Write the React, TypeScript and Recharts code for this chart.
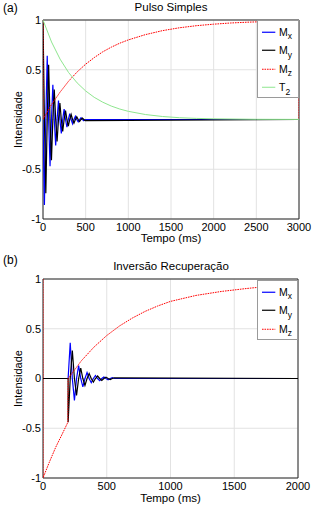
import React from 'react';
import { LineChart, Line, XAxis, YAxis, CartesianGrid, Legend, ReferenceArea } from 'recharts';

const FONT = '"Liberation Sans", Arial, Helvetica, sans-serif';

// (a) Pulso simples, tempo em ms
const pulseTime = [0, 16.5, 33, 49.5, 66, 82.5, 99, 115.5, 132, 148.5, 165, 181.5, 198, 214.5, 231, 247.5, 264, 280.5, 297, 313.5, 330, 346.5, 363, 379.5, 396, 412.5, 429, 445.5, 462, 478.5, 495, 3000];
const pulseMx = [0, -0.86, 0, 0.64, 0, -0.47, 0, 0.35, 0, -0.26, 0, 0.19, 0, -0.14, 0, 0.105, 0, -0.078, 0, 0.058, 0, -0.043, 0, 0.032, 0, -0.024, 0, 0.017, 0, -0.013, 0, 0];
const pulseMy = [1, 0, -0.74, 0, 0.55, 0, -0.41, 0, 0.3, 0, -0.22, 0, 0.165, 0, -0.12, 0, 0.09, 0, -0.067, 0, 0.05, 0, -0.037, 0, 0.027, 0, -0.02, 0, 0.015, 0, -0.011, 0];
const pulseMzTime = [0, 0, 100, 200, 300, 400, 500, 600, 700, 800, 900, 1000, 1200, 1400, 1600, 1800, 2000, 2200, 2400, 2600, 2800, 3000, 3000];
const pulseMz = [1, 0, 0.15, 0.275, 0.385, 0.478, 0.556, 0.622, 0.68, 0.727, 0.767, 0.8, 0.853, 0.893, 0.922, 0.943, 0.958, 0.97, 0.978, 0.984, 0.988, 0.991, 0];
const pulseT2Time = [0, 100, 200, 300, 400, 500, 600, 700, 800, 900, 1000, 1200, 1400, 1600, 1800, 2000, 2500, 3000];
const pulseT2 = [1, 0.779, 0.607, 0.472, 0.368, 0.287, 0.223, 0.174, 0.135, 0.105, 0.082, 0.05, 0.03, 0.018, 0.011, 0.007, 0.002, 0.001];

// (b) Inversao recuperacao
const irMxTime = [0, 197, 213.5, 230, 246.5, 263, 279.5, 296, 312.5, 329, 345.5, 362, 378.5, 395, 411.5, 428, 444.5, 461, 477.5, 494, 510.5, 527, 543.5, 560, 2000];
const irMx = [0, 0, 0.36, 0, -0.22, 0, 0.13, 0, -0.085, 0, 0.06, 0, -0.042, 0, 0.03, 0, -0.022, 0, 0.016, 0, -0.012, 0, 0.008, 0, 0];
const irMyTime = [0, 197, 197, 213.5, 230, 246.5, 263, 279.5, 296, 312.5, 329, 345.5, 362, 378.5, 395, 411.5, 428, 444.5, 461, 477.5, 494, 510.5, 527, 543.5, 560, 2000];
const irMy = [0, 0, -0.44, 0, 0.28, 0, -0.17, 0, 0.105, 0, -0.07, 0, 0.05, 0, -0.036, 0, 0.026, 0, -0.019, 0, 0.014, 0, -0.01, 0, 0.007, 0];
const irMzTime = [0, 0, 50, 100, 150, 195, 197, 250, 300, 400, 500, 600, 700, 800, 900, 1000, 1200, 1400, 1600, 1800, 2000];
const irMz = [1, -1, -0.84, -0.69, -0.56, -0.44, 0, 0.09, 0.177, 0.316, 0.432, 0.528, 0.607, 0.674, 0.729, 0.775, 0.835, 0.875, 0.905, 0.93, 0.945];

const pulseTicks = [0, 500, 1000, 1500, 2000, 2500, 3000];
const irTicks = [0, 500, 1000, 1500, 2000];
const yTicks = [-1, -0.5, 0, 0.5, 1];

const BLUE = '#0000ff';
const BLACK = '#000000';
const RED = '#ff0000';
const GREEN = '#8fe68f';

interface Series {
  key: string;
  time: number[];
  values: number[];
  color: string;
  width: number;
  dash?: string;
  label: string;
  sub: string;
}

const toPoints = (time: number[], values: number[]) => time.map((t, i) => ({ t, v: values[i] }));

const makeLegend = (series: Series[], boxWidth: number) => () => (
  <div
    style={{
      boxSizing: 'border-box',
      width: boxWidth,
      border: '1px solid #9a9a9a',
      background: '#fff',
      paddingTop: 1.5,
      paddingBottom: 0.5,
      fontFamily: FONT,
      color: '#000',
    }}
  >
    {series.map((s) => (
      <div key={s.key} style={{ position: 'relative', height: 18.5 }}>
        <svg width={16} height={18.5} style={{ position: 'absolute', left: 3.7, top: 0 }}>
          <line x1={0} x2={13.3} y1={9.25} y2={9.25} stroke={s.color} strokeWidth={s.width} strokeDasharray={s.dash} />
        </svg>
        <span style={{ position: 'absolute', left: 21, top: 4, fontSize: 10.5, lineHeight: '10.5px', whiteSpace: 'nowrap' }}>
          {s.label}
          <span style={{ fontSize: 8.5, position: 'relative', top: 3.5 }}>{s.sub}</span>
        </span>
      </div>
    ))}
  </div>
);

const YTitle = (props: any) => {
  const vb = props.viewBox || props;
  const cx = vb.x + 21.7;
  const cy = vb.y + vb.height / 2;
  return (
    <text x={cx} y={cy} transform={`rotate(-90, ${cx}, ${cy})`} textAnchor="middle" fontSize={11} fill="#000">
      Intensidade
    </text>
  );
};

const makeXTitle = (dy: number) => (props: any) => {
  const vb = props.viewBox || props;
  return (
    <text x={vb.x + vb.width / 2} y={vb.y + dy} textAnchor="middle" fontSize={11.5} fill="#000">
      Tempo (ms)
    </text>
  );
};

interface PanelProps {
  top: number;
  height: number;
  marginTop: number;
  marginRight: number;
  xAxisHeight: number;
  xMax: number;
  xTicks: number[];
  series: Series[];
  legendTop: number;
  legendWidth: number;
  xTitleDy: number;
}

function RelaxPanel(p: PanelProps) {
  return (
    <div style={{ position: 'absolute', left: 0, top: p.top }}>
      <LineChart width={314} height={p.height} margin={{ top: p.marginTop, right: p.marginRight, bottom: 0, left: 0 }}>
        <CartesianGrid stroke="#e2e2e2" />
        <XAxis
          type="number"
          dataKey="t"
          domain={[0, p.xMax]}
          ticks={p.xTicks}
          interval={0}
          allowDataOverflow
          height={p.xAxisHeight}
          tickSize={0}
          tickMargin={4}
          tickLine={false}
          axisLine={false}
          tick={{ fontSize: 11, fill: '#000' }}
          label={makeXTitle(p.xTitleDy)}
        />
        <YAxis
          type="number"
          domain={[-1, 1]}
          ticks={yTicks}
          interval={0}
          allowDataOverflow
          width={43}
          tickSize={0}
          tickMargin={2}
          tickLine={false}
          axisLine={false}
          tick={{ fontSize: 11, fill: '#000' }}
          label={YTitle}
        />
        <ReferenceArea x1={0} x2={p.xMax} y1={-1} y2={1} fill="none" fillOpacity={0} stroke="#262626" strokeWidth={1} ifOverflow="visible" />
        {p.series.map((s) => (
          <Line
            key={s.key}
            data={toPoints(s.time, s.values)}
            dataKey="v"
            type="linear"
            stroke={s.color}
            strokeWidth={s.width}
            strokeDasharray={s.dash}
            dot={false}
            activeDot={false}
            isAnimationActive={false}
          />
        ))}
        <Legend
          layout="horizontal"
          verticalAlign="middle"
          align="center"
          wrapperStyle={{ left: 257, top: p.legendTop, width: p.legendWidth }}
          content={makeLegend(p.series, p.legendWidth)}
        />
      </LineChart>
    </div>
  );
}

export default function App() {
  const pulseSeries: Series[] = [
    { key: 'mx', time: pulseTime, values: pulseMx, color: BLUE, width: 1.2, label: 'M', sub: 'x' },
    { key: 'my', time: pulseTime, values: pulseMy, color: BLACK, width: 1.2, label: 'M', sub: 'y' },
    { key: 'mz', time: pulseMzTime, values: pulseMz, color: RED, width: 1, dash: '1.6 0.9', label: 'M', sub: 'z' },
    { key: 't2', time: pulseT2Time, values: pulseT2, color: GREEN, width: 1, label: 'T', sub: '2' },
  ];
  const irSeries: Series[] = [
    { key: 'mx', time: irMxTime, values: irMx, color: BLUE, width: 1.2, label: 'M', sub: 'x' },
    { key: 'my', time: irMyTime, values: irMy, color: BLACK, width: 1.2, label: 'M', sub: 'y' },
    { key: 'mz', time: irMzTime, values: irMz, color: RED, width: 1, dash: '1.6 0.9', label: 'M', sub: 'z' },
  ];

  const titleStyle: React.CSSProperties = {
    position: 'absolute',
    fontSize: 11.5,
    lineHeight: '11.5px',
    whiteSpace: 'nowrap',
    color: '#000',
  };

  return (
    <div style={{ position: 'absolute', left: 0, top: 0, width: 314, height: 506, background: '#fff', fontFamily: FONT }}>
      <RelaxPanel
        top={0}
        height={250}
        marginTop={20}
        marginRight={15}
        xAxisHeight={31}
        xMax={3000}
        xTicks={pulseTicks}
        series={pulseSeries}
        legendTop={20}
        legendWidth={42}
        xTitleDy={22.5}
      />
      <RelaxPanel
        top={250}
        height={256}
        marginTop={29}
        marginRight={16}
        xAxisHeight={28}
        xMax={2000}
        xTicks={irTicks}
        series={irSeries}
        legendTop={30}
        legendWidth={41}
        xTitleDy={24}
      />
      <div style={{ ...titleStyle, left: 3, top: 2.3, fontSize: 12, lineHeight: '12px' }}>(a)</div>
      <div style={{ ...titleStyle, left: 0, width: 342, top: 2.3, textAlign: 'center' }}>Pulso Simples</div>
      <div style={{ ...titleStyle, left: 3, top: 254.3, fontSize: 12, lineHeight: '12px' }}>(b)</div>
      <div style={{ ...titleStyle, left: 0, width: 342, top: 261, textAlign: 'center' }}>Inversão Recuperação</div>
    </div>
  );
}
